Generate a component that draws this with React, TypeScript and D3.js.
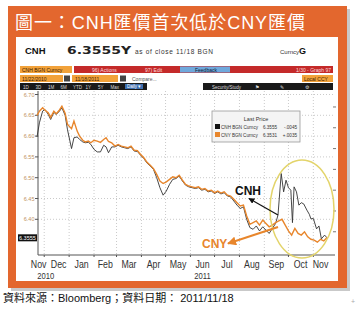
import React from "react";
import * as d3 from "d3";

const cnyDates = ["2010-11-22","2010-11-25","2010-11-29","2010-12-02","2010-12-06","2010-12-09","2010-12-13","2010-12-16","2010-12-20","2010-12-23","2010-12-27","2010-12-30","2011-01-04","2011-01-07","2011-01-11","2011-01-14","2011-01-18","2011-01-21","2011-01-25","2011-01-28","2011-02-01","2011-02-05","2011-02-09","2011-02-13","2011-02-16","2011-02-19","2011-02-23","2011-02-27","2011-03-03","2011-03-07","2011-03-11","2011-03-15","2011-03-19","2011-03-23","2011-03-27","2011-03-31","2011-04-04","2011-04-08","2011-04-12","2011-04-16","2011-04-20","2011-04-24","2011-04-28","2011-05-02","2011-05-06","2011-05-10","2011-05-14","2011-05-18","2011-05-22","2011-05-26","2011-05-30","2011-06-03","2011-06-07","2011-06-11","2011-06-15","2011-06-19","2011-06-23","2011-06-27","2011-07-01","2011-07-05","2011-07-09","2011-07-13","2011-07-17","2011-07-21","2011-07-25","2011-07-29","2011-08-02","2011-08-06","2011-08-10","2011-08-14","2011-08-18","2011-08-22","2011-08-26","2011-08-30","2011-09-03","2011-09-07","2011-09-11","2011-09-15","2011-09-19","2011-09-23","2011-09-27","2011-10-01","2011-10-05","2011-10-09","2011-10-13","2011-10-17","2011-10-21","2011-10-25","2011-10-29","2011-11-02","2011-11-06","2011-11-10","2011-11-14","2011-11-18"];
const cnyValues = [6.650,6.660,6.668,6.662,6.656,6.645,6.660,6.654,6.663,6.672,6.655,6.628,6.618,6.636,6.612,6.600,6.590,6.586,6.588,6.584,6.590,6.588,6.585,6.592,6.596,6.587,6.584,6.576,6.580,6.576,6.574,6.572,6.576,6.566,6.565,6.556,6.548,6.537,6.530,6.522,6.508,6.492,6.486,6.490,6.496,6.502,6.500,6.506,6.494,6.484,6.480,6.478,6.476,6.478,6.472,6.474,6.468,6.470,6.464,6.468,6.463,6.466,6.458,6.456,6.448,6.440,6.432,6.434,6.408,6.388,6.392,6.396,6.386,6.398,6.390,6.382,6.386,6.392,6.396,6.400,6.386,6.372,6.362,6.378,6.366,6.362,6.370,6.358,6.352,6.350,6.345,6.352,6.348,6.356];

const cnhDates = ["2010-11-22","2010-11-25","2010-11-29","2010-12-02","2010-12-06","2010-12-09","2010-12-13","2010-12-16","2010-12-20","2010-12-23","2010-12-27","2010-12-30","2011-01-04","2011-01-07","2011-01-11","2011-01-14","2011-01-18","2011-01-21","2011-01-25","2011-01-28","2011-02-01","2011-02-05","2011-02-09","2011-02-13","2011-02-16","2011-02-19","2011-02-23","2011-02-27","2011-03-03","2011-03-07","2011-03-11","2011-03-15","2011-03-19","2011-03-23","2011-03-27","2011-03-31","2011-04-04","2011-04-08","2011-04-12","2011-04-16","2011-04-20","2011-04-24","2011-04-28","2011-05-02","2011-05-06","2011-05-10","2011-05-14","2011-05-18","2011-05-22","2011-05-26","2011-05-30","2011-06-03","2011-06-07","2011-06-11","2011-06-15","2011-06-19","2011-06-23","2011-06-27","2011-07-01","2011-07-05","2011-07-09","2011-07-13","2011-07-17","2011-07-21","2011-07-25","2011-07-29","2011-08-02","2011-08-06","2011-08-10","2011-08-14","2011-08-18","2011-08-22","2011-08-26","2011-08-30","2011-09-03","2011-09-07","2011-09-11","2011-09-15","2011-09-18","2011-09-22","2011-09-25","2011-09-28","2011-10-01","2011-10-04","2011-10-06","2011-10-08","2011-10-11","2011-10-14","2011-10-17","2011-10-20","2011-10-24","2011-10-27","2011-10-29","2011-11-01","2011-11-05","2011-11-08","2011-11-11","2011-11-15","2011-11-18"];
const cnhValues = [6.598,6.632,6.660,6.664,6.652,6.640,6.657,6.652,6.660,6.668,6.650,6.615,6.570,6.596,6.598,6.592,6.586,6.584,6.585,6.580,6.568,6.562,6.562,6.578,6.574,6.560,6.574,6.574,6.578,6.574,6.572,6.570,6.574,6.564,6.563,6.554,6.546,6.535,6.528,6.520,6.500,6.476,6.458,6.468,6.484,6.496,6.498,6.504,6.492,6.482,6.478,6.476,6.474,6.476,6.470,6.472,6.466,6.468,6.462,6.466,6.461,6.464,6.456,6.454,6.444,6.434,6.426,6.430,6.400,6.380,6.376,6.384,6.372,6.382,6.374,6.366,6.378,6.390,6.410,6.510,6.466,6.494,6.476,6.470,6.392,6.478,6.466,6.434,6.440,6.437,6.422,6.412,6.401,6.402,6.377,6.384,6.353,6.362,6.3555];

const yTicks = [6.40, 6.45, 6.50, 6.55, 6.60, 6.65, 6.70];
const rightTicks = [6.37, 6.42, 6.47, 6.52, 6.57, 6.62, 6.67];
const monthNames = ["Nov","Dec","Jan","Feb","Mar","Apr","May","Jun","Jul","Aug","Sep","Oct","Nov"];
const yearLabels = [{ text: "2010", month: 0 }, { text: "2011", month: 7 }];
const legendRows = [
  { name: "CNH BGN Curncy", last: "6.3555", chg: "-.0045" },
  { name: "CNY BGN Curncy", last: "6.3531", chg: "+.0035" },
];
const lastValue = 6.3555;

const ORANGE = "#e3672e";
const LINE_OR = "#e8862c";
const LATIN = "'Liberation Sans', Arial, sans-serif";
const CJK = "'Liberation Sans', 'Noto Sans CJK TC', sans-serif";

export default function App() {
  const parse = d3.timeParse("%Y-%m-%d");
  const d0 = parse("2010-11-22") as Date;
  const d1 = parse("2011-11-18") as Date;
  const L = 38, R = 333, T = 91, B = 255;
  const x = d3.scaleTime().domain([d0, d1]).range([37, 327]);
  const y = d3.scaleLinear().domain([6.4, 6.7]).range([219.3, 94.5]);

  const cny = cnyDates.map((d, i) => ({ d: parse(d) as Date, v: cnyValues[i] }));
  const cnh = cnhDates.map((d, i) => ({ d: parse(d) as Date, v: cnhValues[i] }));
  const line = d3.line<{ d: Date; v: number }>().x(p => x(p.d)).y(p => y(p.v));

  const monthStarts = d3.timeMonth.range(new Date(2010, 10, 1), new Date(2011, 11, 1));
  const monthCenters = monthStarts.map((m, i) => {
    const next = d3.timeMonth.offset(m, 1);
    const a = m < d0 ? d0 : m;
    const b = next > d1 ? d1 : next;
    return { label: monthNames[i], cx: (x(a) + x(b)) / 2 };
  });
  const minGap = 20;
  for (let i = 1; i < monthCenters.length; i++) {
    const gap = monthCenters[i].cx - monthCenters[i - 1].cx;
    if (gap < minGap) {
      const push = (minGap - gap) / 2;
      monthCenters[i - 1].cx -= push;
      monthCenters[i].cx += push;
    }
  }
  const grid = monthStarts.filter(m => m > d0 && m < d1);

  return (
    <svg width={357} height={314} style={{ position: "absolute", left: 0, top: 0, background: "#fff" }}>
      <defs>
        <marker id="ahB" viewBox="0 0 10 10" refX="9" refY="5" markerWidth="5" markerHeight="5" orient="auto">
          <path d="M0,0 L10,5 L0,10 z" fill="#111" />
        </marker>
        <marker id="ahO" viewBox="0 0 10 10" refX="9" refY="5" markerWidth="4.5" markerHeight="4.5" orient="auto">
          <path d="M0,0 L10,5 L0,10 z" fill={LINE_OR} />
        </marker>
      </defs>
      {/* frame */}
      <rect x={11} y={9} width={339} height={282} fill="#c9c9c9" />
      <rect x={8} y={6} width={339} height={282} fill={ORANGE} />
      <rect x={16} y={37} width={322} height={244} fill="#fff" />
      <text x={15} y={29} fill="#fff" fontSize={18} fontFamily={CJK} textLength={290} lengthAdjust="spacing">圖一：CNH匯價首次低於CNY匯價</text>

      {/* header */}
      <text x={25} y={54} fontSize={9.5} fontWeight="bold" fontFamily={LATIN} fill="#111">CNH</text>
      <text x={67} y={54} fontSize={10.5} fontWeight="bold" fontFamily="'DejaVu Sans', sans-serif" fill="#222" textLength={64} lengthAdjust="spacingAndGlyphs">6.3555Y</text>
      <text x={135} y={54} fontSize={6.5} fontFamily={LATIN} fill="#333" textLength={78} lengthAdjust="spacing">as of close 11/18 BGN</text>
      <text x={280} y={54} fontSize={6} fontFamily={LATIN} fill="#333">Curncy</text>
      <text x={299} y={54} fontSize={9} fontWeight="bold" fontFamily={LATIN} fill="#111">G</text>

      {/* toolbar rows */}
      <rect x={20} y={66} width={52} height={7} fill="#f2a23a" />
      <text x={22} y={71.5} fontSize={5} fontFamily={LATIN} fill="#3a1a00">CNH BGN Curncy</text>
      <rect x={74} y={66} width={259} height={7} fill="#c42a2a" />
      <text x={92} y={71.5} fontSize={5} fontFamily={LATIN} fill="#fbdcdc">96) Actions</text>
      <text x={145} y={71.5} fontSize={5} fontFamily={LATIN} fill="#fbdcdc">97) Edit</text>
      <rect x={180} y={66.5} width={50} height={6} fill="#6fa8dc" />
      <text x={195} y={71.5} fontSize={5} fontFamily={LATIN} fill="#123">Feedback</text>
      <text x={331} y={71.5} fontSize={5} fontFamily={LATIN} fill="#fbdcdc" textAnchor="end">1/30 - Graph 97</text>

      <rect x={20} y={75} width={43} height={7} fill="#f2a23a" />
      <text x={22} y={80.5} fontSize={5} fontFamily={LATIN} fill="#3a1a00">11/22/2010</text>
      <rect x={64} y={75.5} width={6} height={6} fill="#444" />
      <rect x={72} y={75} width={46} height={7} fill="#f2a23a" />
      <text x={75} y={80.5} fontSize={5} fontFamily={LATIN} fill="#3a1a00">11/18/2011</text>
      <rect x={120} y={75.5} width={6} height={6} fill="#444" />
      <text x={132} y={80.5} fontSize={5} fontFamily={LATIN} fill="#555">Compare...</text>
      <rect x={302} y={75} width={31} height={7} fill="#f2a23a" />
      <text x={304} y={80.5} fontSize={5} fontFamily={LATIN} fill="#3a1a00">Local CCY</text>

      <rect x={20} y={83} width={127} height={7} fill="#1a1a1a" />
      {["1D", "3D", "1M", "6M", "YTD", "1Y", "5Y", "Max"].map((t, i) => (
        <text key={t + i} x={23 + i * 12.5} y={88.5} fontSize={4.5} fontFamily={LATIN} fill="#ddd">{t}</text>
      ))}
      <rect x={125} y={84} width={18} height={5} fill="#3d6fb0" />
      <text x={127} y={88.3} fontSize={4.5} fontFamily={LATIN} fill="#fff">Daily ▾</text>
      <rect x={203} y={83} width={130} height={7} fill="#1a1a1a" />
      <text x={212} y={88.5} fontSize={4.5} fontFamily={LATIN} fill="#ddd">Security/Study</text>
      <text x={255} y={88.5} fontSize={4.5} fontFamily={LATIN} fill="#ddd">⚑</text>
      <text x={280} y={88.5} fontSize={4.5} fontFamily={LATIN} fill="#ddd">✎</text>
      <text x={305} y={88.5} fontSize={4.5} fontFamily={LATIN} fill="#ddd">⚙</text>

      {/* grid */}
      {yTicks.map(t => (
        <line key={"h" + t} x1={L} x2={R} y1={y(t)} y2={y(t)} stroke="#bdbdbd" strokeWidth={0.8} strokeDasharray="1,2" />
      ))}
      {grid.map((m, i) => (
        <line key={"v" + i} x1={x(m)} x2={x(m)} y1={T} y2={B} stroke="#bdbdbd" strokeWidth={0.8} strokeDasharray="1,2" />
      ))}
      {/* axes */}
      <line x1={L} x2={L} y1={T} y2={B} stroke="#555" strokeWidth={1} />
      <line x1={L} x2={R + 2} y1={B} y2={B} stroke="#555" strokeWidth={1} />
      {yTicks.map(t => (
        <g key={"yt" + t}>
          <line x1={L - 3} x2={L} y1={y(t)} y2={y(t)} stroke="#555" />
          <text x={L - 3.5} y={y(t) + 2} fontSize={5.5} fontFamily={LATIN} fill="#c0925e" textAnchor="end">{d3.format(".2f")(t)}</text>
        </g>
      ))}
      {rightTicks.map(t => (
        <line key={"rt" + t} x1={R} x2={R + 3} y1={y(t)} y2={y(t)} stroke="#777" />
      ))}
      {grid.map((m, i) => (
        <line key={"bt" + i} x1={x(m)} x2={x(m)} y1={B} y2={B + 2} stroke="#555" />
      ))}
      <rect x={18} y={y(lastValue) - 3.5} width={19} height={7} fill="#111" />
      <text x={19} y={y(lastValue) + 2} fontSize={5.5} fontFamily={LATIN} fill="#fff">{d3.format(".4f")(lastValue)}</text>

      {/* series */}
      <path d={line(cnh) || ""} fill="none" stroke="#333" strokeWidth={0.9} />
      <path d={line(cny) || ""} fill="none" stroke={LINE_OR} strokeWidth={1.4} />

      {/* legend */}
      <rect x={212} y={111} width={88} height={31} fill="#f4f4f4" stroke="#9a9a9a" strokeWidth={0.8} />
      <text x={256} y={121} fontSize={5.5} fontFamily={LATIN} fill="#333" textAnchor="middle">Last Price</text>
      {legendRows.map((r, i) => (
        <g key={r.name}>
          <rect x={215} y={124 + i * 8} width={5} height={5} fill={i === 0 ? "#111" : LINE_OR} />
          <text x={221} y={128.5 + i * 8} fontSize={4.6} fontFamily={LATIN} fill="#333">{r.name}</text>
          <text x={277} y={128.5 + i * 8} fontSize={4.6} fontFamily={LATIN} fill="#333" textAnchor="end">{r.last}</text>
          <text x={297} y={128.5 + i * 8} fontSize={4.6} fontFamily={LATIN} fill="#333" textAnchor="end">{r.chg}</text>
        </g>
      ))}

      {/* month labels */}
      {monthCenters.map((m, i) => (
        <text key={"m" + i} transform={`translate(${m.cx},268) scale(0.8,1)`} fontSize={11} fontFamily={LATIN} fill="#333" textAnchor="middle">{m.label}</text>
      ))}
      {yearLabels.map(yl => (
        <text key={yl.text} transform={`translate(${monthCenters[yl.month].cx + (yl.month === 0 ? 7 : 0)},279) scale(0.85,1)`} fontSize={9} fontFamily={LATIN} fill="#333" textAnchor="middle">{yl.text}</text>
      ))}

      {/* annotations */}
      <ellipse cx={302} cy={209} rx={32} ry={49} fill="none" stroke="#e3d46a" strokeWidth={1.5} />
      <line x1={278} y1={215} x2={249} y2={198.5} stroke="#111" strokeWidth={1.2} markerEnd="url(#ahB)" />
      <text x={235} y={195} fontSize={12} fontWeight="bold" fontFamily={LATIN} fill="#111">CNH</text>
      <line x1={278} y1={227} x2={228} y2={243.5} stroke={LINE_OR} strokeWidth={2} markerEnd="url(#ahO)" />
      <text x={202} y={247.5} fontSize={12} fontWeight="bold" fontFamily={LATIN} fill={LINE_OR}>CNY</text>

      {/* footnote */}
      <text x={3} y={302} fontSize={11} fontFamily={CJK} fill="#111">資料來源：Bloomberg；資料日期： 2011/11/18</text>
      <text x={353} y={304} fontSize={7} fontFamily={LATIN} fill="#aaa" textAnchor="middle">+</text>
    </svg>
  );
}
